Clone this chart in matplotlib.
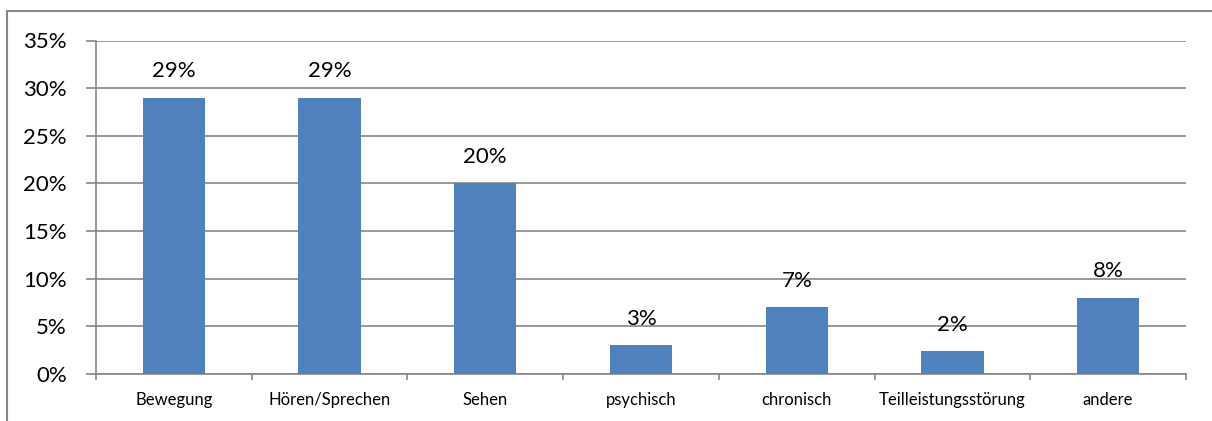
import matplotlib.pyplot as plt
from matplotlib.patches import Rectangle
from matplotlib.ticker import FuncFormatter, MultipleLocator

categories = ['Bewegung', 'Hören/Sprechen', 'Sehen', 'psychisch',
              'chronisch', 'Teilleistungsstörung', 'andere']
values = [29, 29, 20, 3, 7, 2.4, 8]
labels = ['29%', '29%', '20%', '3%', '7%', '2%', '8%']

plt.rcParams['font.family'] = ['Lato', 'DejaVu Sans']
grey = '#868686'

fig = plt.figure(figsize=(12.12, 4.21), dpi=100)
ax = fig.add_axes([96 / 1212, 47 / 421, 1090 / 1212, 333.5 / 421])

x = list(range(len(categories)))
ax.bar(x, values, width=0.4, color='#4F81BD', zorder=3)

for xi, v, lab in zip(x, values, labels):
    ax.annotate(lab, (xi, v), xytext=(0, 19), textcoords='offset points',
                ha='center', va='center', fontsize=16, color='black', zorder=4)

ax.set_xlim(-0.5, len(categories) - 0.5)
ax.set_ylim(0, 35)
ax.yaxis.set_major_locator(MultipleLocator(5))
ax.yaxis.set_major_formatter(FuncFormatter(lambda v, p: '%d%%' % v))
ax.grid(axis='y', color=grey, linewidth=1.2, zorder=0)

ax.set_xticks(x)
ax.set_xticklabels(categories, fontsize=12)
ax.set_xticks([i + 0.5 for i in range(-1, len(categories))], minor=True)
ax.tick_params(axis='x', which='major', length=0, pad=13)
ax.tick_params(axis='x', which='minor', length=4, color=grey, width=1.2)
ax.tick_params(axis='y', length=7, color=grey, width=1.2, labelsize=16, pad=14)

for s in ['top', 'right']:
    ax.spines[s].set_visible(False)
for s in ['left', 'bottom']:
    ax.spines[s].set_color(grey)
    ax.spines[s].set_linewidth(1.2)

# chart border
fig.patches.append(Rectangle((7 / 1212, -0.1), 1.2, (421 - 11) / 421 + 0.1,
                             transform=fig.transFigure, fill=False,
                             edgecolor=grey, linewidth=1.5))

fig.savefig('out.png', dpi=100)
